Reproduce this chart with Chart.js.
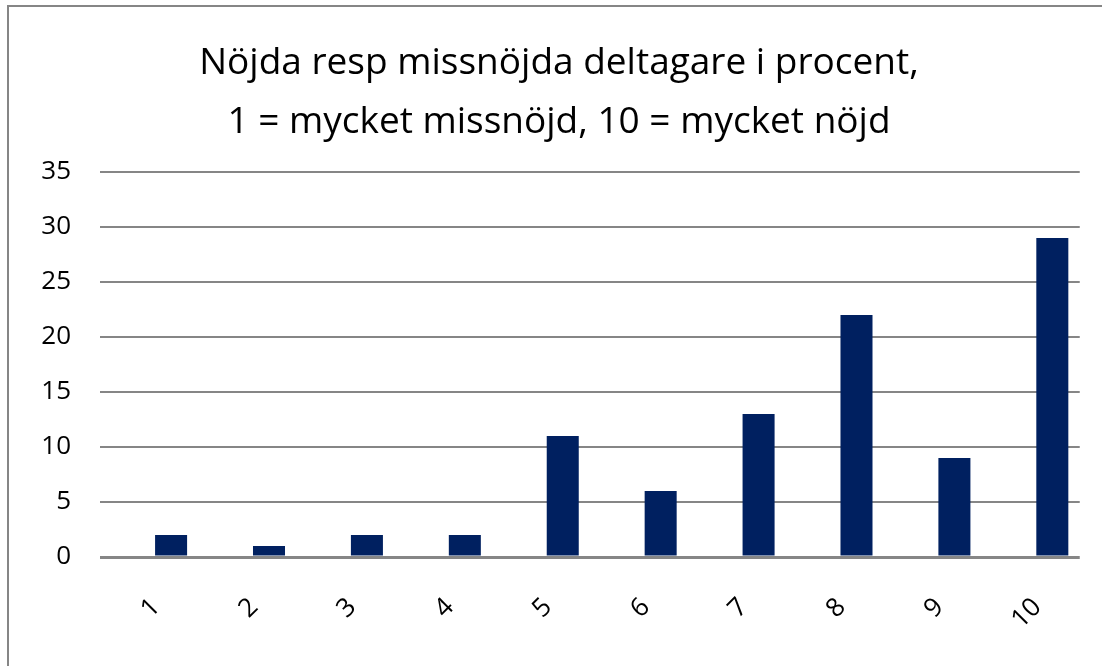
<!DOCTYPE html>
<html>
<head>
<meta charset="utf-8">
<script src="https://cdn.jsdelivr.net/npm/chart.js@4"></script>
<style>
  html, body { margin: 0; padding: 0; background: #fff; overflow: hidden; }
  #frame {
    position: absolute; left: 7px; top: 5px; width: 2000px; height: 2000px;
    border-left: 2px solid #868686; border-top: 2px solid #868686;
  }
  #wrap { position: absolute; left: 0; top: 0; width: 1102px; height: 666px; }
</style>
</head>
<body>
<div id="frame"></div>
<div id="wrap"><canvas id="chart"></canvas></div>
<script>
const titleLines = ['Nöjda resp missnöjda deltagare i procent,', '1 = mycket missnöjd, 10 = mycket nöjd'];
const categories = ['1', '2', '3', '4', '5', '6', '7', '8', '9', '10'];
const values = [2, 1, 2, 2, 11, 6, 13, 22, 9, 29];
const yTicks = [0, 5, 10, 15, 20, 25, 30, 35];

const gridGray = '#868686';
const barBlue = '#002060';

const points = categories.map((c, i) => ({ x: i + 1, y: values[i] }));

// the title in the original sits a bit right of the canvas centre
const titleShift = {
  id: 'titleShift',
  afterLayout(chart) {
    chart.titleBlock.left += 19;
    chart.titleBlock.right += 19;
  }
};

new Chart(document.getElementById('chart'), {
  type: 'bar',
  data: {
    datasets: [{
      data: points,
      backgroundColor: barBlue,
      borderWidth: 0,
      barPercentage: 0.327,
      categoryPercentage: 1
    }]
  },
  plugins: [titleShift],
  options: {
    responsive: true,
    maintainAspectRatio: false,
    animation: false,
    layout: { padding: { left: 0, right: 22, top: 0, bottom: 0 } },
    plugins: {
      legend: { display: false },
      tooltip: { enabled: false },
      title: {
        display: true,
        text: titleLines,
        color: '#000',
        font: { family: 'Open Sans', size: 37, weight: 'normal', lineHeight: 59 / 37 },
        padding: { top: 34, bottom: 20 }
      }
    },
    scales: {
      x: {
        type: 'linear',
        offset: false,
        min: 0.274,
        max: 10.28,
        grid: { display: false, offset: false },
        border: { display: false },
        afterBuildTicks: (scale) => {
          scale.ticks = categories.map((c, i) => ({ value: i + 1 }));
        },
        afterFit: (scale) => { scale.height = 109; },
        ticks: {
          autoSkip: false,
          minRotation: 45,
          maxRotation: 45,
          padding: 27,
          labelOffset: -15,
          color: '#000',
          font: { family: 'Open Sans', size: 26 },
          callback: (v) => categories[Math.round(v) - 1]
        }
      },
      y: {
        min: 0,
        max: 35,
        afterBuildTicks: (scale) => {
          scale.ticks = yTicks.map((v) => ({ value: v }));
        },
        afterFit: (scale) => { scale.width = 100; },
        grid: {
          color: gridGray,
          lineWidth: (ctx) => (ctx.tick && ctx.tick.value === 0 ? 3 : 2),
          drawTicks: false
        },
        border: { display: false },
        ticks: {
          padding: 29,
          color: '#000',
          font: { family: 'Open Sans', size: 26 }
        }
      }
    }
  }
});
</script>
</body>
</html>
